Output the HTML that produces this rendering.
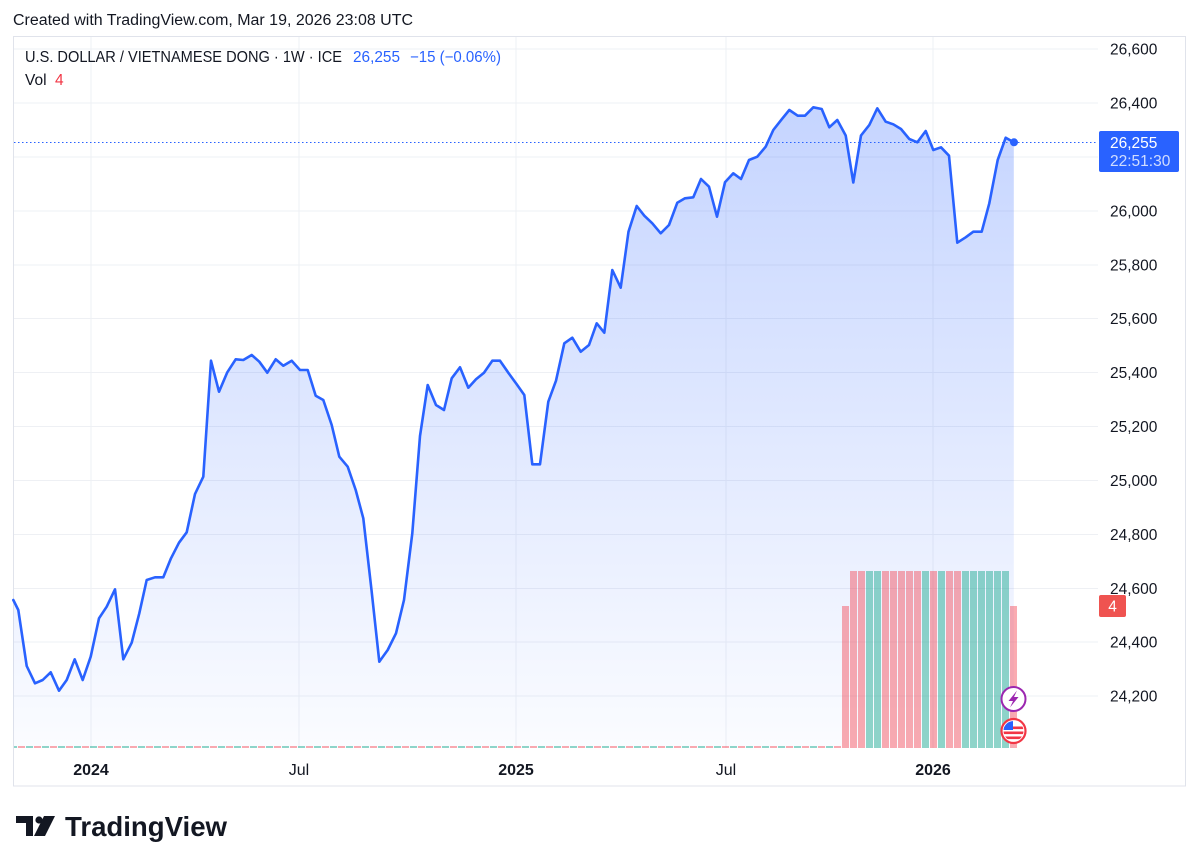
<!DOCTYPE html>
<html><head><meta charset="utf-8"><style>
html,body{margin:0;padding:0;background:#fff;}
svg{display:block;font-family:"Liberation Sans",sans-serif;}
</style></head><body>
<svg width="1200" height="867" viewBox="0 0 1200 867" xmlns="http://www.w3.org/2000/svg">
<defs>
<linearGradient id="fg" x1="0" y1="107" x2="0" y2="748" gradientUnits="userSpaceOnUse">
<stop offset="0" stop-color="#2962ff" stop-opacity="0.27"/>
<stop offset="1" stop-color="#2962ff" stop-opacity="0.02"/>
</linearGradient>
<pattern id="vp" x="2" y="0" width="16" height="10" patternUnits="userSpaceOnUse">
<rect x="0" y="0" width="7" height="10" fill="rgba(242,54,69,0.42)"/>
<rect x="8" y="0" width="7" height="10" fill="rgba(34,171,148,0.5)"/>
</pattern>
<clipPath id="fc"><circle cx="1013.5" cy="731" r="10"/></clipPath>
</defs>
<rect width="1200" height="867" fill="#fff"/>
<text x="13" y="25" font-size="15.5" fill="#131722" textLength="400" lengthAdjust="spacingAndGlyphs">Created with TradingView.com, Mar 19, 2026 23:08 UTC</text>
<rect x="13.5" y="36.5" width="1172" height="749.5" fill="none" stroke="#e0e3eb" stroke-width="1"/>
<g stroke="#eef0f4" stroke-width="1">
<line x1="14" y1="49" x2="1098" y2="49"/>
<line x1="14" y1="103" x2="1098" y2="103"/>
<line x1="14" y1="157" x2="1098" y2="157"/>
<line x1="14" y1="211" x2="1098" y2="211"/>
<line x1="14" y1="265" x2="1098" y2="265"/>
<line x1="14" y1="318.5" x2="1098" y2="318.5"/>
<line x1="14" y1="372.5" x2="1098" y2="372.5"/>
<line x1="14" y1="426.5" x2="1098" y2="426.5"/>
<line x1="14" y1="480.5" x2="1098" y2="480.5"/>
<line x1="14" y1="534.5" x2="1098" y2="534.5"/>
<line x1="14" y1="588.5" x2="1098" y2="588.5"/>
<line x1="14" y1="642" x2="1098" y2="642"/>
<line x1="14" y1="696" x2="1098" y2="696"/>
<line x1="91" y1="37" x2="91" y2="748"/>
<line x1="299" y1="37" x2="299" y2="748"/>
<line x1="516" y1="37" x2="516" y2="748"/>
<line x1="726" y1="37" x2="726" y2="748"/>
<line x1="933" y1="37" x2="933" y2="748"/>
</g>
<polygon fill="url(#fg)" points="13.3,600 18.3,610 26.7,666 35,683.3 42.7,680 50.7,672.3 59,690.7 66.7,680 74.7,659.3 82.7,680 90.7,656.7 99,618.3 106.7,606.7 115,589.3 123.3,659.3 131.7,642.7 139.3,613.3 146.7,580 155,577.3 163.3,577.3 171,558.3 179,542.7 186.7,532.3 195,494 203.3,476.7 211,360.7 219,391.7 227.3,372.3 235.7,359.3 243.3,360 251.7,355 259.3,361.7 267.3,372.7 275.7,359.3 283.3,365.7 291.7,360.7 300,370 307.7,370 315.7,395.7 323.3,400 331.7,425 339.3,456.7 347.7,466.7 355.7,490 363.3,518.3 371.5,590 379.3,661.7 387.7,650 396,633.3 404,600 412.3,533.3 420,436 427.7,385 436,405 444,410 451.7,378.3 460,367.3 468.3,387.7 476,379.3 484,372.7 492.3,360.7 500,360.7 508.3,372.7 516.7,384.3 524.3,395 532.3,464.3 540,464.3 548.3,401.7 556,380.7 564.3,343.3 572.3,337.7 580.7,351.7 589,345 596.7,323.3 604.3,332.7 612.3,270 620.7,287.7 628.5,231.7 636.7,206 644.3,215.7 652.3,223.3 660.7,233.3 669,225 677.3,202.7 685,198.3 693.3,197.3 701,179 709,186.7 717,216.7 725,182.3 733.3,173.3 741,179 749,160 757.3,156.7 765.7,146.7 773.3,130 781.7,119.3 789.3,110 797.7,115.7 805,115.7 813.3,107.3 821.7,109 829.3,127.3 837.3,120 845.7,135.5 853.3,182.5 861,135.5 869.3,125 877.3,108.3 885.7,121.7 893.3,124.3 901,129 909.3,139 917.3,142.3 925.7,131 933.3,150 941,147.3 949,155.7 957.3,242.7 965.7,237.3 973.3,231.7 981.7,231.7 989.3,203.3 997.7,160 1005.7,137.7 1013.8,142.3 1013.8,748 13.3,748"/>
<rect x="14" y="746" width="828" height="2" fill="url(#vp)"/>
<g fill="rgba(242,54,69,0.42)">
<rect x="842" y="606" width="7" height="142"/>
<rect x="850" y="571" width="7" height="177"/>
<rect x="858" y="571" width="7" height="177"/>
<rect x="882" y="571" width="7" height="177"/>
<rect x="890" y="571" width="7" height="177"/>
<rect x="898" y="571" width="7" height="177"/>
<rect x="906" y="571" width="7" height="177"/>
<rect x="914" y="571" width="7" height="177"/>
<rect x="930" y="571" width="7" height="177"/>
<rect x="946" y="571" width="7" height="177"/>
<rect x="954" y="571" width="7" height="177"/>
<rect x="1010" y="606" width="7" height="142"/>
</g>
<g fill="rgba(34,171,148,0.5)">
<rect x="866" y="571" width="7" height="177"/>
<rect x="874" y="571" width="7" height="177"/>
<rect x="922" y="571" width="7" height="177"/>
<rect x="938" y="571" width="7" height="177"/>
<rect x="962" y="571" width="7" height="177"/>
<rect x="970" y="571" width="7" height="177"/>
<rect x="978" y="571" width="7" height="177"/>
<rect x="986" y="571" width="7" height="177"/>
<rect x="994" y="571" width="7" height="177"/>
<rect x="1002" y="571" width="7" height="177"/>
</g>
<line x1="14" y1="142.5" x2="1098" y2="142.5" stroke="#2962ff" stroke-width="1" stroke-dasharray="1.5 2.5"/>
<polyline fill="none" stroke="#2962ff" stroke-width="2.6" stroke-linejoin="round" stroke-linecap="round" points="13.3,600 18.3,610 26.7,666 35,683.3 42.7,680 50.7,672.3 59,690.7 66.7,680 74.7,659.3 82.7,680 90.7,656.7 99,618.3 106.7,606.7 115,589.3 123.3,659.3 131.7,642.7 139.3,613.3 146.7,580 155,577.3 163.3,577.3 171,558.3 179,542.7 186.7,532.3 195,494 203.3,476.7 211,360.7 219,391.7 227.3,372.3 235.7,359.3 243.3,360 251.7,355 259.3,361.7 267.3,372.7 275.7,359.3 283.3,365.7 291.7,360.7 300,370 307.7,370 315.7,395.7 323.3,400 331.7,425 339.3,456.7 347.7,466.7 355.7,490 363.3,518.3 371.5,590 379.3,661.7 387.7,650 396,633.3 404,600 412.3,533.3 420,436 427.7,385 436,405 444,410 451.7,378.3 460,367.3 468.3,387.7 476,379.3 484,372.7 492.3,360.7 500,360.7 508.3,372.7 516.7,384.3 524.3,395 532.3,464.3 540,464.3 548.3,401.7 556,380.7 564.3,343.3 572.3,337.7 580.7,351.7 589,345 596.7,323.3 604.3,332.7 612.3,270 620.7,287.7 628.5,231.7 636.7,206 644.3,215.7 652.3,223.3 660.7,233.3 669,225 677.3,202.7 685,198.3 693.3,197.3 701,179 709,186.7 717,216.7 725,182.3 733.3,173.3 741,179 749,160 757.3,156.7 765.7,146.7 773.3,130 781.7,119.3 789.3,110 797.7,115.7 805,115.7 813.3,107.3 821.7,109 829.3,127.3 837.3,120 845.7,135.5 853.3,182.5 861,135.5 869.3,125 877.3,108.3 885.7,121.7 893.3,124.3 901,129 909.3,139 917.3,142.3 925.7,131 933.3,150 941,147.3 949,155.7 957.3,242.7 965.7,237.3 973.3,231.7 981.7,231.7 989.3,203.3 997.7,160 1005.7,137.7 1013.8,142.3"/>
<circle cx="1014" cy="142.3" r="4" fill="#2962ff"/>
<circle cx="1013.5" cy="699" r="12" fill="#fff" stroke="#9c27b0" stroke-width="2"/>
<path d="M1017,690.5 L1008.5,701 L1013,701 L1010,707.5 L1018.5,697 L1014,697 Z" fill="#9c27b0"/>
<circle cx="1013.5" cy="731" r="12" fill="#fff" stroke="#f23645" stroke-width="2.2"/>
<g clip-path="url(#fc)">
<rect x="1003" y="721" width="21" height="21" fill="#fff"/>
<rect x="1003" y="726.5" width="21" height="2.6" fill="#f23645"/>
<rect x="1003" y="731.5" width="21" height="2.6" fill="#f23645"/>
<rect x="1003" y="736.5" width="21" height="2.6" fill="#f23645"/>
<rect x="1003" y="721" width="10" height="9" fill="#2962ff"/>
</g>
<text x="25" y="62" font-size="15.5" fill="#131722" textLength="317" lengthAdjust="spacingAndGlyphs">U.S. DOLLAR / VIETNAMESE DONG · 1W · ICE</text>
<text x="353" y="62" font-size="15.5" fill="#2962ff" textLength="47" lengthAdjust="spacingAndGlyphs">26,255</text>
<text x="410" y="62" font-size="15.5" fill="#2962ff" textLength="91" lengthAdjust="spacingAndGlyphs">−15 (−0.06%)</text>
<text x="25" y="85" font-size="15.5" fill="#131722">Vol</text>
<text x="55" y="85" font-size="15.5" fill="#f23645">4</text>
<g font-size="15.5" fill="#131722">
<text x="1110" y="54.5">26,600</text>
<text x="1110" y="108.5">26,400</text>
<text x="1110" y="216.5">26,000</text>
<text x="1110" y="270.5">25,800</text>
<text x="1110" y="324">25,600</text>
<text x="1110" y="378">25,400</text>
<text x="1110" y="432">25,200</text>
<text x="1110" y="486">25,000</text>
<text x="1110" y="540">24,800</text>
<text x="1110" y="594">24,600</text>
<text x="1110" y="647.5">24,400</text>
<text x="1110" y="701.5">24,200</text>
</g>
<rect x="1099" y="131" width="80" height="41" rx="2" fill="#2962ff"/>
<text x="1110" y="148" font-size="15.5" fill="#fff">26,255</text>
<text x="1110" y="166" font-size="15.5" fill="rgba(255,255,255,0.78)">22:51:30</text>
<rect x="1099" y="595" width="27" height="22" rx="2" fill="#ef5350"/>
<text x="1112.5" y="611.5" font-size="15.5" fill="#fff" text-anchor="middle">4</text>
<g font-size="16" fill="#131722" text-anchor="middle">
<text x="91" y="775" font-weight="bold">2024</text>
<text x="299" y="775">Jul</text>
<text x="516" y="775" font-weight="bold">2025</text>
<text x="726" y="775">Jul</text>
<text x="933" y="775" font-weight="bold">2026</text>
</g>
<g fill="#131722">
<path d="M16,816 L33,816 L33,836 L26,836 L26,823 L16,823 Z"/>
<circle cx="39" cy="820" r="3.6"/>
<path d="M44,816 L55,816 L45,836 L34,836 Z"/>
</g>
<text x="65" y="836" font-size="28" font-weight="bold" fill="#131722" textLength="162" lengthAdjust="spacingAndGlyphs">TradingView</text>
</svg>
</body></html>
